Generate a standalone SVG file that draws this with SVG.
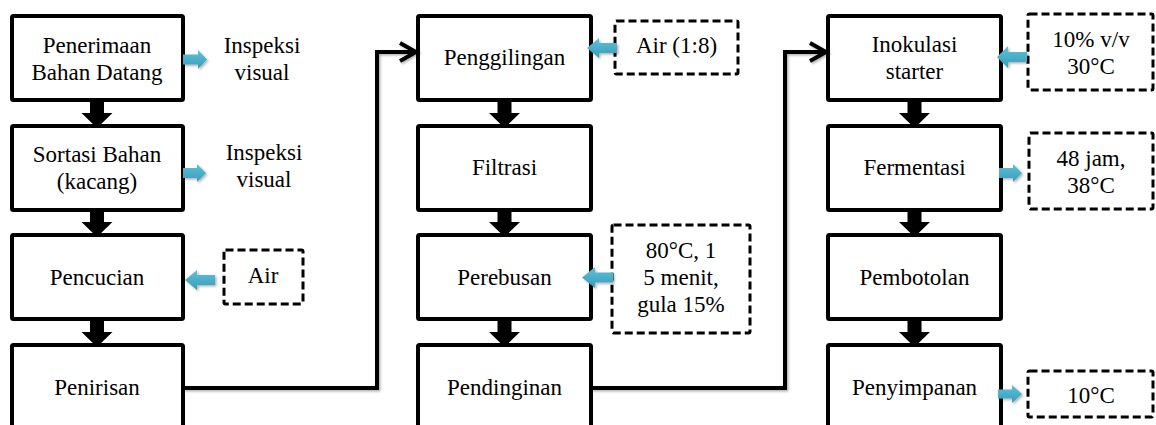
<svg xmlns="http://www.w3.org/2000/svg" width="1156" height="425" viewBox="0 0 1156 425">
<style>
.box{fill:#fff;stroke:#000;stroke-width:4}
.note{fill:#fff;stroke:#000;stroke-width:3;stroke-dasharray:8 4}
.t{font-family:"Liberation Serif","Times New Roman",serif;font-size:23px;fill:#000;text-anchor:middle}
.blk{fill:#000}
.blue{fill:url(#bg);filter:url(#sh)}
.conn{fill:none;stroke:#000;stroke-width:4;stroke-linejoin:miter;filter:url(#sh)}
</style>
<defs>
<linearGradient id="bg" x1="0" y1="0" x2="0" y2="1">
<stop offset="0" stop-color="#5cc2da"/>
<stop offset="1" stop-color="#3a9bb8"/>
</linearGradient>
<filter id="sh" x="-20%" y="-20%" width="140%" height="140%">
<feDropShadow dx="1.5" dy="1.5" stdDeviation="1.2" flood-color="#000" flood-opacity="0.3"/>
</filter>
<marker id="chev" markerUnits="userSpaceOnUse" markerWidth="24" markerHeight="24" viewBox="-20 -12 24 24" refX="0" refY="0" orient="auto">
<path d="M -16 -9 L 0 0 L -16 9" fill="none" stroke="#000" stroke-width="4"/>
</marker>
</defs>

<g id="n-penerimaan"><rect class="box" x="12" y="16" width="171" height="84" rx="1.5"/><text class="t" x="97" y="53">Penerimaan</text><text class="t" x="97" y="80">Bahan Datang</text></g>
<g id="n-sortasi"><rect class="box" x="12" y="126" width="171" height="84" rx="1.5"/><text class="t" x="97" y="162">Sortasi Bahan</text><text class="t" x="97" y="189">(kacang)</text></g>
<g id="n-pencucian"><rect class="box" x="12" y="235" width="171" height="84" rx="1.5"/><text class="t" x="97" y="285">Pencucian</text></g>
<g id="n-penirisan"><rect class="box" x="12" y="345" width="171" height="86" rx="1.5"/><text class="t" x="97" y="395">Penirisan</text></g>
<g id="n-inspeksi1"><text class="t" x="262" y="53">Inspeksi</text><text class="t" x="262" y="80">visual</text></g>
<g id="n-inspeksi2"><text class="t" x="264" y="160">Inspeksi</text><text class="t" x="264" y="187">visual</text></g>
<g id="n-air"><rect class="note" x="224" y="250" width="79" height="54" rx="1.5"/><text class="t" x="263" y="283">Air</text></g>

<g id="n-penggilingan"><rect class="box" x="418" y="16" width="173" height="84" rx="1.5"/><text class="t" x="504.5" y="65">Penggilingan</text></g>
<g id="n-filtrasi"><rect class="box" x="418" y="126" width="173" height="84" rx="1.5"/><text class="t" x="504.5" y="175">Filtrasi</text></g>
<g id="n-perebusan"><rect class="box" x="418" y="235" width="173" height="84" rx="1.5"/><text class="t" x="504.5" y="285">Perebusan</text></g>
<g id="n-pendinginan"><rect class="box" x="418" y="345" width="173" height="86" rx="1.5"/><text class="t" x="504.5" y="395">Pendinginan</text></g>
<g id="n-air18"><rect class="note" x="615" y="21" width="123" height="53" rx="1.5"/><text class="t" x="676.5" y="53">Air (1:8)</text></g>
<g id="n-rebus-note"><rect class="note" x="612" y="225" width="138" height="108" rx="1.5"/><text class="t" x="681" y="258">80°C, 1</text><text class="t" x="681" y="285">5 menit,</text><text class="t" x="681" y="312">gula 15%</text></g>

<g id="n-inokulasi"><rect class="box" x="828" y="16" width="173" height="84" rx="1.5"/><text class="t" x="914.5" y="52">Inokulasi</text><text class="t" x="914.5" y="79">starter</text></g>
<g id="n-fermentasi"><rect class="box" x="828" y="126" width="173" height="84" rx="1.5"/><text class="t" x="914.5" y="175">Fermentasi</text></g>
<g id="n-pembotolan"><rect class="box" x="828" y="235" width="173" height="84" rx="1.5"/><text class="t" x="914.5" y="285">Pembotolan</text></g>
<g id="n-penyimpanan"><rect class="box" x="828" y="345" width="173" height="86" rx="1.5"/><text class="t" x="914.5" y="395">Penyimpanan</text></g>
<g id="n-starter-note"><rect class="note" x="1028" y="14" width="125" height="76" rx="1.5"/><text class="t" x="1091" y="47">10% v/v</text><text class="t" x="1091" y="74">30°C</text></g>
<g id="n-ferm-note"><rect class="note" x="1029" y="133" width="124" height="76" rx="1.5"/><text class="t" x="1091" y="166">48 jam,</text><text class="t" x="1091" y="193">38°C</text></g>
<g id="n-simpan-note"><rect class="note" x="1028" y="371" width="125" height="46" rx="1.5"/><text class="t" x="1091" y="403">10°C</text></g>

<g id="connectors">
<path class="conn" d="M 183 388 H 377 V 52 H 416" marker-end="url(#chev)"/>
<path class="conn" d="M 591 388 H 785 V 52 H 826" marker-end="url(#chev)"/>
<path class="blk" d="M 90 100 H 104 V 113 H 112.5 L 97 128 L 81.5 113 H 90 Z"/>
<path class="blk" d="M 90 210 H 104 V 222 H 112.5 L 97 237 L 81.5 222 H 90 Z"/>
<path class="blk" d="M 90 319 H 104 V 332 H 112.5 L 97 347 L 81.5 332 H 90 Z"/>
<path class="blk" d="M 497.5 100 H 511.5 V 113 H 520 L 504.5 128 L 489 113 H 497.5 Z"/>
<path class="blk" d="M 497.5 210 H 511.5 V 222 H 520 L 504.5 237 L 489 222 H 497.5 Z"/>
<path class="blk" d="M 497.5 319 H 511.5 V 332 H 520 L 504.5 347 L 489 332 H 497.5 Z"/>
<path class="blk" d="M 907.5 100 H 921.5 V 113 H 930 L 914.5 128 L 899 113 H 907.5 Z"/>
<path class="blk" d="M 907.5 210 H 921.5 V 222 H 930 L 914.5 237 L 899 222 H 907.5 Z"/>
<path class="blk" d="M 907.5 319 H 921.5 V 332 H 930 L 914.5 347 L 899 332 H 907.5 Z"/>
<path class="blue" d="M 183 54.5 H 198 V 50 L 207 59.5 L 198 69 V 64.5 H 183 Z"/>
<path class="blue" d="M 183 168 H 197 V 164 L 206 173 L 197 182 V 178 H 183 Z"/>
<path class="blue" d="M 185 280 L 197 270 V 275 H 215 V 285 H 197 V 290 Z"/>
<path class="blue" d="M 587 48 L 599 38 V 43 H 617 V 53 H 599 V 58 Z"/>
<path class="blue" d="M 582 277.5 L 595 267 V 272.5 H 613 V 282.5 H 595 V 288 Z"/>
<path class="blue" d="M 997 57 L 1008 46 V 52 H 1027 V 62 H 1008 V 68 Z"/>
<path class="blue" d="M 999 168 H 1013 V 164 L 1022 173 L 1013 182 V 178 H 999 Z"/>
<path class="blue" d="M 998 389.5 H 1012 V 385 L 1022 394 L 1012 403 V 398.5 H 998 Z"/>
</g>
</svg>
